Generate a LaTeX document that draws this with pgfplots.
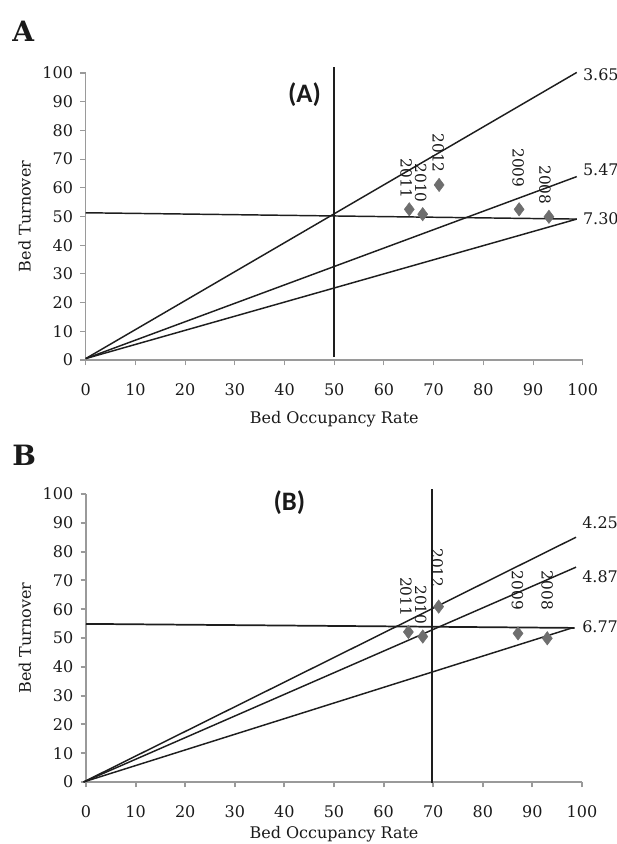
\documentclass[border=0pt]{standalone}
\usepackage{pgfplots}
\pgfplotsset{compat=1.18}
\usepackage{fontspec}
\setmainfont{DejaVu Serif}
\newfontfamily\calib{Carlito}

\definecolor{axgray}{HTML}{9A9A9A}
\definecolor{ptgray}{HTML}{6E6E6E}
\definecolor{ln}{HTML}{1E1E1E}
\definecolor{txt}{HTML}{1A1A1A}

\tikzset{
  yr/.style={rotate=-90, anchor=west, inner sep=0pt, font=\fontsize{11.5}{13}\selectfont, text=txt},
  rl/.style={anchor=west, inner sep=0pt, font=\fontsize{12}{13}\selectfont, text=txt},
  trend/.style={ln, line width=1.1pt},
}
\pgfplotsset{
  panel/.style={
    scale only axis,
    xmin=0, xmax=100, ymin=0, ymax=100,
    clip=false,
    axis x line=bottom, axis y line=left,
    axis line style={-, axgray},
    xtick={0,10,...,100}, ytick={0,10,...,100},
    tick align=outside, major tick length=4pt,
    tick style={axgray},
    /pgf/number format/assume math mode=true,
    ticklabel style={font=\fontsize{12}{13}\selectfont, text=txt},
    xticklabel style={yshift=-10.5pt},
    yticklabel style={xshift=-2pt},
    label style={font=\fontsize{12}{13}\selectfont, text=txt},
    xlabel={Bed Occupancy Rate}, ylabel={Bed Turnover},
    ylabel style={at={(axis description cs:-0.123,0.5)}, anchor=center},
  },
}

\begin{document}
\begin{tikzpicture}
\path[use as bounding box] (0,0) rectangle (462.75pt,633pt);

\node[anchor=base west, inner sep=0pt, font=\bfseries\fontsize{21}{24}\selectfont, text=txt] at (9pt,601.5pt) {A};
\node[anchor=base west, inner sep=0pt, font=\bfseries\fontsize{21}{24}\selectfont, text=txt] at (9pt,283.5pt) {B};

% ---------------- Panel A ----------------
\begin{axis}[panel, at={(64.3pt,363pt)}, width=372.75pt, height=215.25pt,
  axis line style={line width=0.8pt}, tick style={line width=0.8pt},
  xlabel style={at={(axis description cs:0.5,-0.205)}, anchor=center}]
\addplot[trend] coordinates {(0,0.5) (98.8,100.2)};
\addplot[trend] coordinates {(0,0.5) (98.8,63.9)};
\addplot[trend] coordinates {(0,0.5) (98.8,49.1)};
\addplot[trend] coordinates {(0,51.3) (98.8,49.1)};
\addplot[trend, line width=1.2pt] coordinates {(50,1) (50,102)};
\addplot[only marks, mark=diamond*, mark size=5pt, ptgray] coordinates {
  (65.1,52.5) (67.8,50.8) (71.1,61.0) (87.2,52.5) (93.2,49.9)};
\node[yr] at (axis cs:70.9,79.0) {2012};
\node[yr] at (axis cs:64.5,70.2) {2011};
\node[yr] at (axis cs:67.4,68.5) {2010};
\node[yr] at (axis cs:87.0,73.8) {2009};
\node[yr] at (axis cs:92.4,67.9) {2008};
\node[rl] at (axis cs:100,99.3) {3.65};
\node[rl] at (axis cs:100,66.4) {5.47};
\node[rl] at (axis cs:100,49.4) {7.30};
\node[font=\calib\bfseries\fontsize{20}{22}\selectfont, text=txt] at (axis cs:44,92.3) {(A)};
\end{axis}

% ---------------- Panel B ----------------
\begin{axis}[panel, at={(64.5pt,46.5pt)}, width=372pt, height=216pt,
  axis line style={line width=1.4pt}, tick style={line width=1.4pt},
  xlabel style={at={(axis description cs:0.5,-0.182)}, anchor=center}]
\addplot[trend] coordinates {(-0.5,0) (98.8,85.0)};
\addplot[trend] coordinates {(-0.5,0) (98.8,74.6)};
\addplot[trend] coordinates {(-0.5,0) (98.0,53.5)};
\addplot[trend, line width=1.3pt] coordinates {(0,54.9) (98.5,53.5)};
\addplot[trend, line width=1.2pt] coordinates {(69.8,-0.5) (69.8,101.7)};
\addplot[only marks, mark=diamond*, mark size=5pt, ptgray] coordinates {
  (65.0,52.1) (67.9,50.5) (71.1,60.9) (87.1,51.6) (93.0,49.9)};
\node[yr] at (axis cs:70.8,81.2) {2012};
\node[yr] at (axis cs:64.5,71.2) {2011};
\node[yr] at (axis cs:67.5,68.4) {2010};
\node[yr] at (axis cs:87.0,73.4) {2009};
\node[yr] at (axis cs:93.0,73.4) {2008};
\node[rl] at (axis cs:100,89.9) {4.25};
\node[rl] at (axis cs:100,71.2) {4.87};
\node[rl] at (axis cs:100,53.8) {6.77};
\node[font=\calib\bfseries\fontsize{20}{22}\selectfont, text=txt] at (axis cs:41,97) {(B)};
\end{axis}
\end{tikzpicture}
\end{document}
